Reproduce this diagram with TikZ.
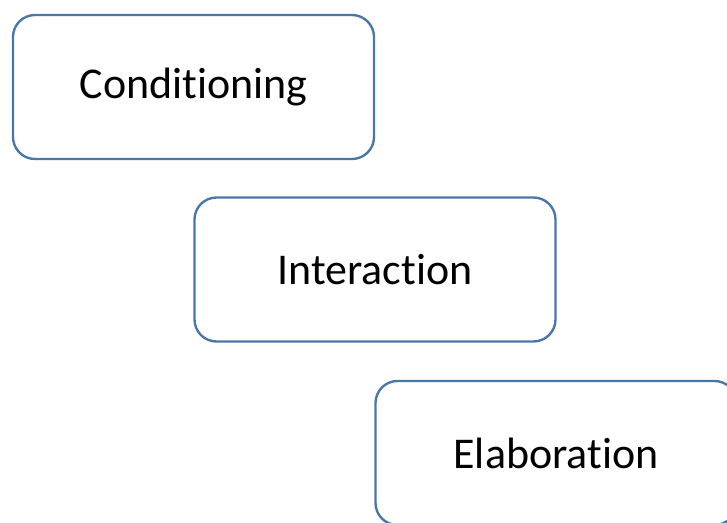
\documentclass[tikz,border=0pt]{standalone}
\usepackage{fontspec}
\setmainfont{Carlito}[Ligatures=NoCommon]
\definecolor{boxblue}{RGB}{74,118,168}
\tikzset{
  stage/.style = {draw = boxblue, line width = 1.35pt, rounded corners = 0.44cm,
    minimum width = 7.22cm, minimum height = 2.88cm, inner sep = 0pt,
    font = \fontsize{25}{30}\selectfont}
}

\begin{document}
\begin{tikzpicture}
\clip (0,0) rectangle (14.54cm,10.44cm);
\node [stage] (cond) at (3.87cm,8.70cm) {Conditioning};
\node [stage] (inter) at (7.50cm,5.05cm) {Interaction};
\node [stage] (elab) at (11.12cm,1.38cm) {Elaboration};
\end{tikzpicture}
\end{document}
